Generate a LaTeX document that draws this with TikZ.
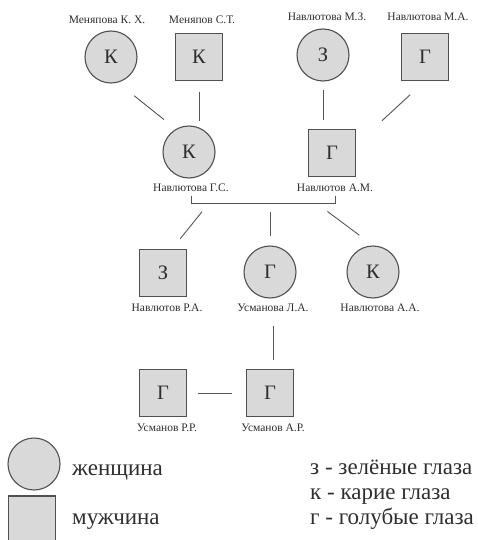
\documentclass[tikz,border=0pt]{standalone}
\usepackage{fontspec}
\setmainfont{Liberation Serif}
\usetikzlibrary{calc}
\definecolor{FillC}{HTML}{D9D9D9}
\definecolor{EdgeC}{HTML}{505050}
\definecolor{LinkC}{HTML}{555555}
\definecolor{TextC}{HTML}{2E2E2E}

\begin{document}
\begin{tikzpicture}[x=1pt,y=1pt,
  fem/.style={circle,draw=EdgeC,fill=FillC,line width=1.1pt,minimum size=52pt,
    inner sep=0pt,text=TextC,font=\fontsize{20.5}{20}\selectfont},
  male/.style={rectangle,draw=EdgeC,fill=FillC,line width=1.1pt,minimum size=47pt,
    inner sep=0pt,text=TextC,font=\fontsize{20.5}{20}\selectfont},
  who/.style={inner sep=1pt,text=TextC,font=\fontsize{11.5}{13}\selectfont},
  kinline/.style={draw=LinkC,line width=.9pt},
  legend/.style={anchor=base west,inner sep=0pt,text=TextC,font=\fontsize{23}{25}\selectfont}]

\clip (0,0) rectangle (477,-540);

% ---------- grandparents ----------
\node[fem]  (mk)  at (111,-57) {К};
\node[who]  (mkl) at (107,-20) {Меняпова К. Х.};
\node[male] (st)  at (199,-57) {К};
\node[who]  (stl) at (202,-20) {Меняпов С.Т.};
\node[fem]  (mz)  at (323,-55) {З};
\node[who]  (mzl) at (327,-17) {Навлютова М.З.};
\node[male] (ma)  at (425,-57) {Г};
\node[who]  (mal) at (428,-17) {Навлютова М.А.};

% ---------- parents ----------
\node[fem]  (gs)  at (189,-152) {К};
\node[who]  (gsl) at (191,-188) {Навлютова Г.С.};
\node[male] (am)  at (332,-153) {Г};
\node[who]  (aml) at (335,-188) {Навлютов А.М.};

\draw[kinline,shorten <=21pt,shorten >=15pt] (mk.-75) -- (gs.120);
\draw[kinline,shorten <=11pt,shorten >=4pt] (st.south) -- (st.south |- gs.north);
\draw[kinline,shorten <=8pt,shorten >=9pt] (mz.south) -- (mz.south |- am.north);
\draw[kinline,shorten <=20pt,shorten >=12pt] (ma.south) -- ([xshift=17pt]am.north east);

% ---------- children ----------
\node[male] (ra)  at (163,-273) {З};
\node[who]  (ral) at (167,-308) {Навлютов Р.А.};
\node[fem]  (lu)  at (270,-272) {Г};
\node[who]  (lul) at (273,-308) {Усманова Л.А.};
\node[fem]  (aa)  at (373,-272) {К};
\node[who]  (aal) at (380,-308) {Навлютова А.А.};

\draw[kinline,shorten <=3pt,shorten >=3pt] (gsl.south) -- ++(0,-10) coordinate (kinL)
  -- (kinL -| aml.south) coordinate (kinR) -- (aml.south);
\coordinate (k1) at ($(kinL)!.125!(kinR)$);
\coordinate (k3) at ($(kinL)!.87!(kinR)$);
\draw[kinline,shorten <=11pt,shorten >=13pt] (k1) -- ([xshift=9pt]ra.north);
\draw[kinline,shorten <=9pt,shorten >=9pt] (lu.north |- kinL) -- (lu.north);
\draw[kinline,shorten <=14pt,shorten >=17pt] (k3) -- (aa.north);

% ---------- grandchildren ----------
\node[male] (rr)  at (163,-393) {Г};
\node[who]  (rrl) at (167,-428) {Усманов Р.Р.};
\node[male] (ar)  at (270,-393) {Г};
\node[who]  (arl) at (273,-428) {Усманов А.Р.};

\draw[kinline,shorten <=13pt,shorten >=9pt] (lul.south) -- (lul.south |- ar.north);
\draw[kinline,shorten <=11pt,shorten >=14pt] (rr) -- (ar);

% ---------- legend ----------
\node[fem]  (kf) at (34,-464) {};
\node[male] (km) at (32,-519.5) {};
\node[legend] (kft) at (72,-475) {женщина};
\node[legend] (kmt) at (72,-524) {мужчина};
\node[legend] (kz) at (310,-474) {з - зелёные глаза};
\node[legend] (kk) at (310,-499) {к - карие глаза};
\node[legend] (kg) at (310,-524) {г - голубые глаза};
\end{tikzpicture}
\end{document}
